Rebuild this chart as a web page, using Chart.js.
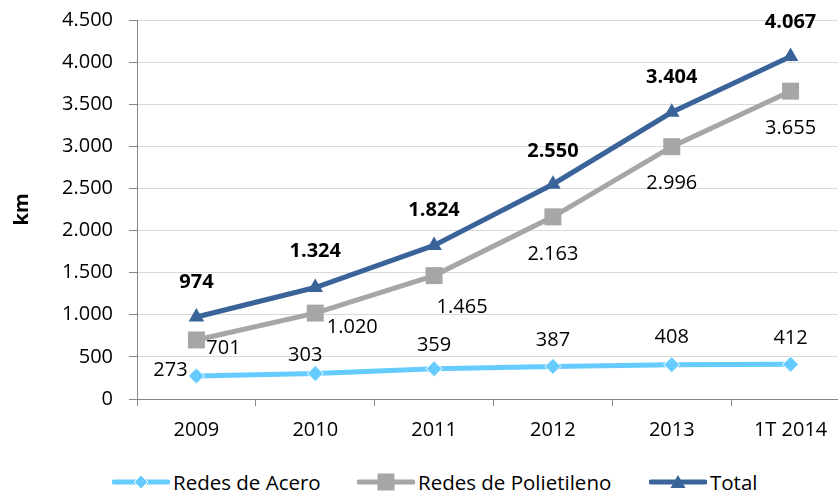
<!DOCTYPE html>
<html>
<head>
<meta charset="utf-8">
<script src="https://cdn.jsdelivr.net/npm/chart.js@4.4.0/dist/chart.umd.min.js"></script>
<style>
  html, body { margin: 0; padding: 0; background: #fff; overflow: hidden; }
  #wrap { position: relative; width: 838px; height: 491px; overflow: hidden; font-family: "Open Sans", Lato, sans-serif; }
  #box { position: absolute; left: 0; top: 0; width: 862px; height: 445px; }
  .item { position: absolute; top: 472px; height: 20px; line-height: 20px; display: flex; align-items: center; font-size: 20.5px; color: #000; white-space: nowrap; }
  .item svg { margin-right: 3px; }
</style>
</head>
<body>
<div id="wrap">
  <div id="box"><canvas id="mainChart"></canvas></div>
  <div id="legend"></div>
</div>
<script>
const categories = ['2009', '2010', '2011', '2012', '2013', '1T 2014'];
const acero = [273, 303, 359, 387, 408, 412];
const polietileno = [701, 1020, 1465, 2163, 2996, 3655];
const total = [974, 1324, 1824, 2550, 3404, 4067];
const yTicks = [0, 500, 1000, 1500, 2000, 2500, 3000, 3500, 4000, 4500];

// label offsets from each point, in px
const aceroOffsets = [[-26, -6], [-10, -18], [0, -23], [0, -26], [0, -27], [0, -26]];
const poliOffsets = [[27, 8], [37, 14], [28, 32], [0, 37], [0, 37], [0, 37]];
const totalOffsets = [[0, -35], [0, -36], [0, -35], [0, -33], [0, -35], [0, -34]];

const FONT = '"Open Sans", Lato, sans-serif';

function fmt(v) {
  return String(v).replace(/\B(?=(\d{3})+(?!\d))/g, '.');
}

const labelPlugin = {
  id: 'pointLabels',
  afterDatasetsDraw(chart) {
    const ctx = chart.ctx;
    chart.data.datasets.forEach((ds, i) => {
      const meta = chart.getDatasetMeta(i);
      ctx.save();
      ctx.font = (ds.labelBold ? 'bold ' : '') + '20px ' + FONT;
      ctx.fillStyle = '#000';
      ctx.textAlign = 'center';
      ctx.textBaseline = 'middle';
      meta.data.forEach((pt, j) => {
        const off = ds.labelOffsets[j];
        ctx.fillText(fmt(ds.data[j]), pt.x + off[0], pt.y + off[1]);
      });
      ctx.restore();
    });
  }
};

const ctx = document.getElementById('mainChart').getContext('2d');
new Chart(ctx, {
  type: 'line',
  data: {
    labels: categories,
    datasets: [
      {
        label: 'Redes de Acero',
        data: acero,
        borderColor: '#66CCFF',
        backgroundColor: '#66CCFF',
        borderWidth: 5,
        pointStyle: 'rectRot',
        pointRadius: 8,
        pointBorderWidth: 1,
        pointBorderColor: '#ffffff',
        labelOffsets: aceroOffsets
      },
      {
        label: 'Redes de Polietileno',
        data: polietileno,
        borderColor: '#A6A6A6',
        backgroundColor: '#A6A6A6',
        borderWidth: 5,
        pointStyle: 'rect',
        pointRadius: 12,
        pointBorderWidth: 0,
        labelOffsets: poliOffsets
      },
      {
        label: 'Total',
        data: total,
        borderColor: '#3A6499',
        backgroundColor: '#3A6499',
        borderWidth: 5,
        pointStyle: 'triangle',
        pointRadius: 9,
        pointBorderWidth: 0,
        labelOffsets: totalOffsets,
        labelBold: true
      }
    ]
  },
  options: {
    responsive: true,
    maintainAspectRatio: false,
    animation: false,
    layout: { padding: { top: 20, right: 5, left: 0, bottom: 0 } },
    plugins: {
      legend: { display: false },
      tooltip: { enabled: false }
    },
    scales: {
      x: {
        offset: true,
        grid: { offset: true, drawOnChartArea: false, tickLength: 7, tickColor: '#868686' },
        border: { color: '#868686', width: 1 },
        ticks: { color: '#000', padding: 12, font: { family: FONT, size: 20 } },
        afterFit(scale) { scale.height = 46; }
      },
      y: {
        min: 0,
        max: 4500,
        afterBuildTicks(scale) { scale.ticks = yTicks.map(v => ({ value: v })); },
        grid: { color: '#D9D9D9', tickLength: 8, tickColor: '#868686' },
        border: { color: '#868686', width: 1 },
        ticks: { color: '#000', padding: 16, font: { family: FONT, size: 20 }, callback: v => fmt(v) },
        title: { display: true, text: 'km', color: '#000', padding: { top: 10, bottom: 0 }, font: { family: FONT, size: 20, weight: 'bold' } },
        afterFit(scale) {
          scale.width = 137;
          scale.paddingTop = 0;
          scale.paddingBottom = 0;
        }
      }
    }
  },
  plugins: [labelPlugin]
});

// legend as html
const legendItems = [
  { text: 'Redes de Acero', left: 112, color: '#66CCFF', marker: '<polygon points="29,3 36,10 29,17 22,10" fill="#66CCFF" stroke="#fff" stroke-width="1"/>' },
  { text: 'Redes de Polietileno', left: 357, color: '#A6A6A6', marker: '<rect x="20.5" y="1.5" width="17" height="17" fill="#A6A6A6"/>' },
  { text: 'Total', left: 649, color: '#3A6499', marker: '<polygon points="29,3 36.5,16 21.5,16" fill="#3A6499"/>' }
];
const legendEl = document.getElementById('legend');
legendItems.forEach(it => {
  const d = document.createElement('div');
  d.className = 'item';
  d.style.left = it.left + 'px';
  d.innerHTML = `<svg width="58" height="20"><line x1="2" y1="10" x2="56" y2="10" stroke="${it.color}" stroke-width="5" stroke-linecap="round"/>${it.marker}</svg><span>${it.text}</span>`;
  legendEl.appendChild(d);
});
</script>
</body>
</html>
